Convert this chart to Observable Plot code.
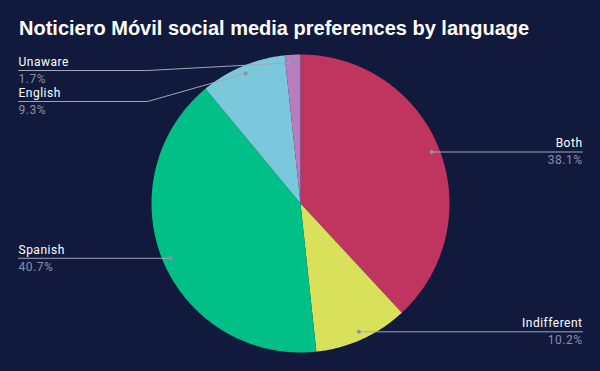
<!DOCTYPE html>
<html>
<head>
<meta charset="utf-8">
<script src="https://cdn.jsdelivr.net/npm/d3@7"></script>
<script src="https://cdn.jsdelivr.net/npm/@observablehq/plot@0.6"></script>
<style>
  html, body { margin: 0; padding: 0; background: #111a3d; width: 600px; height: 371px; overflow: hidden; }
  #wrap { position: relative; width: 600px; height: 371px; }
  #title { position: absolute; left: 19px; top: 17px; color: #ffffff; font: bold 20px "Liberation Sans", Arial, sans-serif; white-space: nowrap; }
  #chart { position: absolute; left: 0; top: 50px; }
  #chart text { letter-spacing: 0.5px; }
</style>
</head>
<body>
<div id="wrap">
  <div id="title">Noticiero Móvil social media preferences by language</div>
  <div id="chart"></div>
</div>
<script>
const categories = ["Both", "Indifferent", "Spanish", "English", "Unaware"];
const shares = [38.1, 10.2, 40.7, 9.3, 1.7];
const colors = ["#c0355f", "#d9e15b", "#00c088", "#7bc8dc", "#b87dbf"];
const pctLabels = ["38.1%", "10.2%", "40.7%", "9.3%", "1.7%"];

// layout constants (pixels, relative to pie centre, y up)
const W = 600, H = 321, CY = 153;
const R = 149, RDOT = 141;
const END_X = 282, ELBOW_X = 153, TOP_LIMIT = 133, GAP = 31;

const total = d3.sum(shares);
let acc = 0;
const slices = categories.map((c, i) => {
  const a0 = acc / total * 2 * Math.PI;
  acc += shares[i];
  const a1 = acc / total * 2 * Math.PI;
  return {name: c, pct: pctLabels[i], color: colors[i], a0, a1, mid: (a0 + a1) / 2};
});

function polygon(s) {
  const pts = [{x: 0, y: 0}];
  const n = Math.max(2, Math.ceil((s.a1 - s.a0) / (Math.PI / 360)));
  for (let k = 0; k <= n; k++) {
    const a = s.a0 + (s.a1 - s.a0) * k / n;
    pts.push({x: R * Math.sin(a), y: R * Math.cos(a)});
  }
  pts.push({x: 0, y: 0});
  return pts;
}

// label placement
slices.forEach(s => {
  s.dx = RDOT * Math.sin(s.mid);
  s.dy = RDOT * Math.cos(s.mid);
  s.side = s.dx >= 0 ? 1 : -1;
  s.ly = s.dy;
});
for (const side of [1, -1]) {
  const group = slices.filter(s => s.side === side).sort((a, b) => b.ly - a.ly);
  let prev = null;
  for (const s of group) {
    if (s.ly > TOP_LIMIT) s.ly = TOP_LIMIT;
    if (prev && s.ly > prev.ly - GAP) s.ly = prev.ly - GAP;
    prev = s;
  }
}
const leaders = [];
slices.forEach(s => {
  leaders.push({k: s.name, x: s.dx, y: s.dy});
  if (Math.abs(s.ly - s.dy) > 0.5) leaders.push({k: s.name, x: s.side * ELBOW_X, y: s.ly});
  else leaders.push({k: s.name, x: s.dx, y: s.ly});
  leaders.push({k: s.name, x: s.side * END_X, y: s.ly});
});
const labels = slices.map(s => ({...s, lx: s.side * END_X}));

const marks = [];
slices.forEach(s => marks.push(Plot.line(polygon(s), {x: "x", y: "y", fill: s.color, stroke: "none", curve: "linear"})));
marks.push(Plot.line(leaders, {x: "x", y: "y", z: "k", stroke: "#a3a6b8", strokeWidth: 1, curve: "linear"}));
marks.push(Plot.dot(slices, {x: "dx", y: "dy", r: 2, fill: "#8e91a6", stroke: "none"}));
marks.push(Plot.text(labels.filter(d => d.side > 0), {x: "lx", y: "ly", text: "name", textAnchor: "end", lineAnchor: "middle", dy: -8.5, fill: "#ffffff", fontSize: 12}));
marks.push(Plot.text(labels.filter(d => d.side < 0), {x: "lx", y: "ly", text: "name", textAnchor: "start", lineAnchor: "middle", dy: -8.5, fill: "#ffffff", fontSize: 12}));
marks.push(Plot.text(labels.filter(d => d.side > 0), {x: "lx", y: "ly", text: "pct", textAnchor: "end", lineAnchor: "middle", dy: 8.5, fill: "#8a8ea6", fontSize: 12}));
marks.push(Plot.text(labels.filter(d => d.side < 0), {x: "lx", y: "ly", text: "pct", textAnchor: "start", lineAnchor: "middle", dy: 8.5, fill: "#8a8ea6", fontSize: 12}));

const chart = Plot.plot({
  width: W, height: H,
  margin: 0,
  x: {domain: [-300, 300], axis: null},
  y: {domain: [CY - H, CY], axis: null},
  style: {background: "transparent", fontFamily: "Roboto, 'Liberation Sans', sans-serif", overflow: "visible"},
  marks
});
document.getElementById("chart").appendChild(chart);
</script>
</body>
</html>
